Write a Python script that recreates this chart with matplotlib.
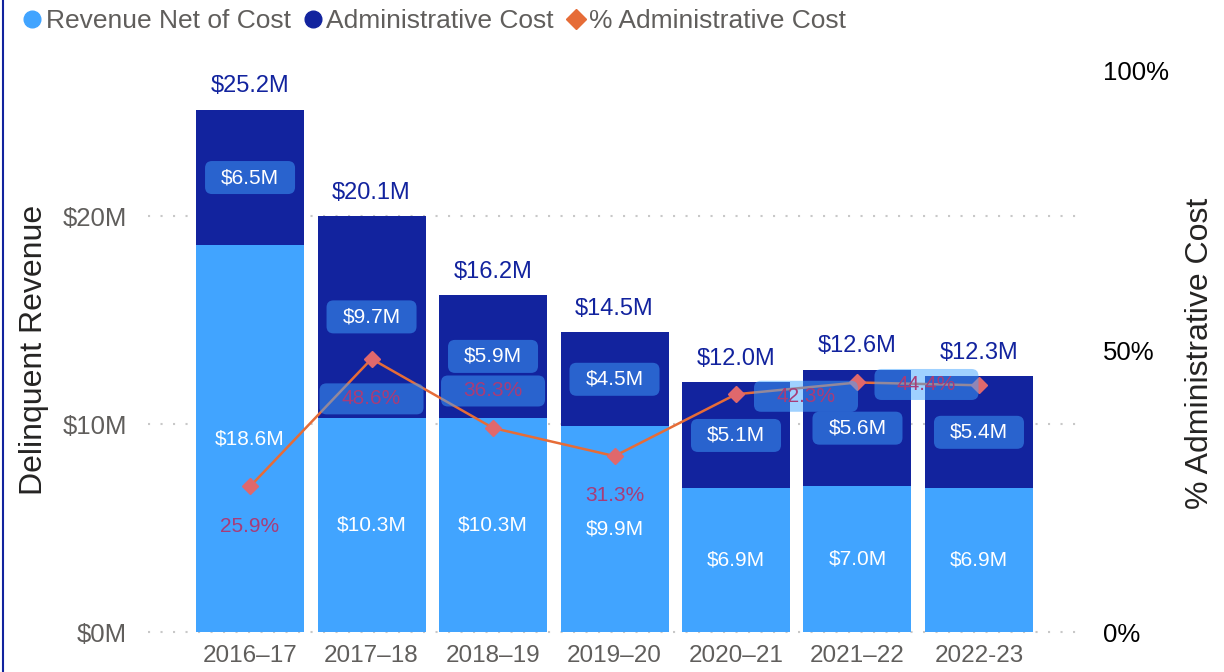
import matplotlib
matplotlib.use("Agg")
import matplotlib.pyplot as plt
import matplotlib.transforms as mtransforms
from matplotlib.patches import FancyBboxPatch
from matplotlib.lines import Line2D

plt.rcParams['font.family'] = ['Liberation Sans', 'DejaVu Sans']

# fiscal years and amounts ($M)
years = ['2016–17', '2017–18', '2018–19', '2019–20', '2020–21', '2021–22', '2022-23']
net_revenue = [18.6, 10.3, 10.3, 9.9, 6.9, 7.0, 6.9]
admin_cost = [6.5, 9.7, 5.9, 4.5, 5.1, 5.6, 5.4]
total_revenue = [25.2, 20.1, 16.2, 14.5, 12.0, 12.6, 12.3]
pct_admin = [25.9, 48.6, 36.3, 31.3, 42.3, 44.4, 43.9]

# where each percentage label sits relative to its marker (inches), and whether it gets a box
pct_label_pos = [(0.0, -0.40, False), (0.0, -0.40, True), (0.0, 0.37, True),
                 (0.0, -0.39, False), (0.70, -0.02, True), (0.69, -0.02, True), None]

NAVY = '#12239E'
LIGHT = '#41A4FF'
ORANGE = '#E66C37'
DIAMOND = '#E0686C'
PCT_TEXT = '#A83C78'
GREY = '#605E5C'
GRID = '#C8C8C8'

fig = plt.figure(figsize=(12.24, 6.72), dpi=100)
ax = fig.add_axes([148 / 1224, 40 / 672, 934 / 1224, 562 / 672])
ax2 = ax.twinx()

x = list(range(len(years)))
width = 0.889
ax.bar(x, net_revenue, width, color=LIGHT, zorder=2)
ax.bar(x, admin_cost, width, bottom=net_revenue, color=NAVY, zorder=2)

ax.set_xlim(-0.84, 6.848)
ax.set_ylim(0, 27.02)
ax2.set_ylim(0, 100)

# dotted gridlines behind the bars
for v in [0, 10, 20]:
    ax.plot([0, 1], [v, v], transform=mtransforms.blended_transform_factory(ax.transAxes, ax.transData),
            color=GRID, lw=1.5, ls=(0, (1, 5)), zorder=1, clip_on=False)


def box_label(axis, xv, yv, text, dx=0.0, dy=0.0, box=None, color='white', size=15, z=5):
    trans = fig.dpi_scale_trans + mtransforms.ScaledTranslation(xv, yv, axis.transData)
    if box is not None:
        w, h = box
        patch = FancyBboxPatch((dx - w / 2, dy - h / 2), w, h,
                               boxstyle='round,pad=0,rounding_size=0.07',
                               transform=trans, fc=LIGHT, ec='none', alpha=0.5, zorder=z)
        axis.add_artist(patch)
    axis.text(dx, dy, text, transform=trans, ha='center', va='center',
              color=color, fontsize=size, zorder=z + 1)


for i in x:
    top = net_revenue[i] + admin_cost[i]
    ax.annotate(f'${total_revenue[i]:.1f}M', (i, top), xytext=(0, 9), textcoords='offset points',
                ha='center', va='bottom', color=NAVY, fontsize=17)
    box_label(ax, i, net_revenue[i] / 2, f'${net_revenue[i]:.1f}M')
    box_label(ax, i, net_revenue[i] + admin_cost[i] / 2, f'${admin_cost[i]:.1f}M', box=(0.90, 0.33))

ax2.plot(x, pct_admin, color=ORANGE, lw=1.8, marker='D', markersize=8,
         markerfacecolor=DIAMOND, markeredgecolor=DIAMOND, zorder=3)

for i, pos in enumerate(pct_label_pos):
    if pos is None:
        continue
    dx, dy, boxed = pos
    box_label(ax2, i, pct_admin[i], f'{pct_admin[i]:.1f}%', dx=dx, dy=dy,
              box=(1.04, 0.31) if boxed else None, color=PCT_TEXT, size=15)

ax.set_xticks(x)
ax.set_xticklabels(years)
ax.set_yticks([0, 10, 20])
ax.set_yticklabels(['$0M', '$10M', '$20M'])
ax2.set_yticks([0, 50, 100])
ax2.set_yticklabels(['0%', '50%', '100%'])

ax.tick_params(axis='x', length=0, pad=9, labelsize=17.5, labelcolor=GREY)
ax.tick_params(axis='y', length=0, pad=15, labelsize=18.5, labelcolor=GREY)
ax2.tick_params(axis='y', length=0, pad=15, labelsize=18.5, labelcolor='black')

ax.set_ylabel('Delinquent Revenue', fontsize=23, color='#252423')
ax.yaxis.set_label_coords(-0.106, 0.502)
ax2.set_ylabel('% Administrative Cost', fontsize=23, color='#252423', rotation=90)
ax2.yaxis.set_label_coords(1.11, 0.496)

for a in (ax, ax2):
    for s in a.spines.values():
        s.set_visible(False)

handles = [
    Line2D([], [], ls='none', marker='o', markersize=12, color=LIGHT),
    Line2D([], [], ls='none', marker='o', markersize=12, color=NAVY),
    Line2D([], [], ls='none', marker='D', markersize=10, color=ORANGE),
]
fig.legend(handles, ['Revenue Net of Cost', 'Administrative Cost', '% Administrative Cost'],
           loc='upper left', bbox_to_anchor=(0.006, 1.01), ncol=3, frameon=False,
           fontsize=19, labelcolor=GREY, handlelength=0.7, handletextpad=0.15,
           columnspacing=0.5, borderaxespad=0.2)

# left edge rule of the visual frame
fig.add_artist(Line2D([3 / 1224, 3 / 1224], [0, 1], transform=fig.transFigure, color=NAVY, lw=1.5))

fig.savefig('out.png', dpi=100)
